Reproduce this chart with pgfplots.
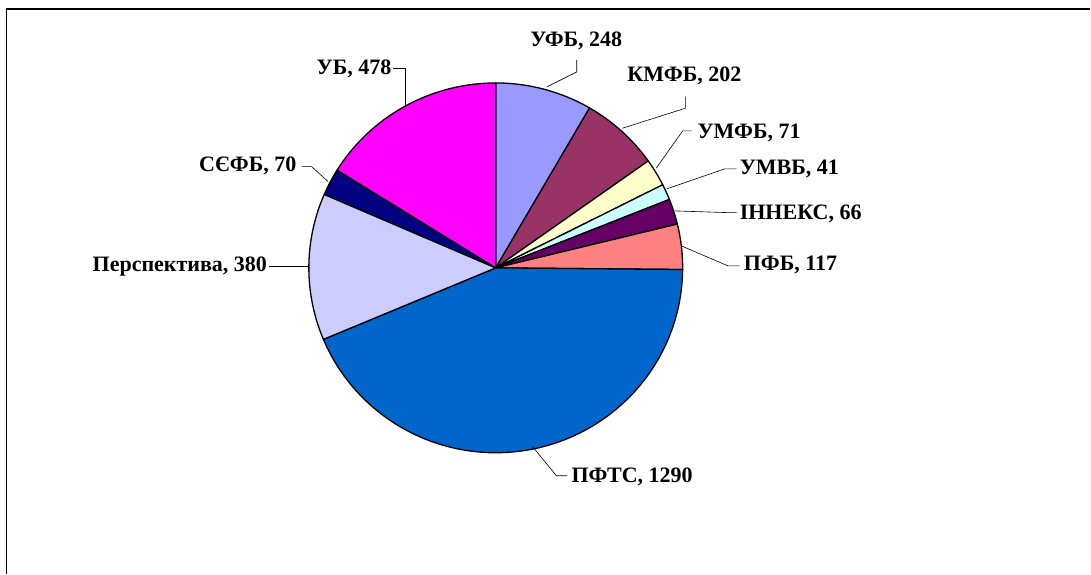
\documentclass[border=0pt]{standalone}
\usepackage{pgfplots}
\usepackage{pgfplotstable}
\pgfplotsset{compat=1.18}
\usepackage{fontspec}
\setmainfont{Liberation Serif}

\definecolor{pie0}{HTML}{9999FF}
\definecolor{pie1}{HTML}{993366}
\definecolor{pie2}{HTML}{FFFFCC}
\definecolor{pie3}{HTML}{CCFFFF}
\definecolor{pie4}{HTML}{660066}
\definecolor{pie5}{HTML}{FF8080}
\definecolor{pie6}{HTML}{0066CC}
\definecolor{pie7}{HTML}{CCCCFF}
\definecolor{pie8}{HTML}{000080}
\definecolor{pie9}{HTML}{FF00FF}

\tikzset{lbl/.style={inner sep=0pt, font=\fontsize{22bp}{26bp}\selectfont\bfseries}}

% market shares (clockwise from 12 o'clock)
\pgfplotstableread{
name value
UFB 248
KMFB 202
UMFB 71
UMVB 41
INNEKS 66
PFB 117
PFTS 1290
Perspektyva 380
SEFB 70
UB 478
}\piedata

\def\pietotal{0}
\pgfplotsforeachungrouped \i in {0,...,9}{%
  \pgfplotstablegetelem{\i}{value}\of\piedata
  \pgfmathsetmacro\pietotal{\pietotal+\pgfplotsretval}%
}
\def\piecum{0}
\pgfplotsforeachungrouped \i in {0,...,9}{%
  \pgfplotstablegetelem{\i}{value}\of\piedata
  \pgfmathsetmacro\piestart{90-360*(\piecum/\pietotal)}%
  \pgfmathsetmacro\piecum{\piecum+\pgfplotsretval}%
  \pgfmathsetmacro\pieend{90-360*(\piecum/\pietotal)}%
  \expandafter\let\csname sa\i\endcsname\piestart
  \expandafter\let\csname ea\i\endcsname\pieend
}

\begin{document}
\begin{tikzpicture}
\begin{axis}[
  scale only axis, width=1091bp, height=574bp,
  xmin=0, xmax=1091, ymin=0, ymax=574,
  hide axis, clip=false,
]
\addplot[draw=none] coordinates {(0,0) (1091,574)};
% frame
\addplot[black, line width=1.1bp] coordinates {(6.5,0) (6.5,565) (1091,565)};
% wedges
\pgfplotsinvokeforeach{0,...,9}{
  \addplot[fill=pie#1, draw=black, line width=1.3bp, line join=round,
    variable=\t, samples at={-1,0,...,60,61}]
    ({496+187*and(\t>=0,\t<=60)*cos(\csname sa#1\endcsname+(\csname ea#1\endcsname-\csname sa#1\endcsname)*\t/60)},
     {306+185*and(\t>=0,\t<=60)*sin(\csname sa#1\endcsname+(\csname ea#1\endcsname-\csname sa#1\endcsname)*\t/60)});
}
% leader lines
\addplot[black, line width=0.6bp] coordinates {(577,514) (577,502) (547,487)};
\addplot[black, line width=0.6bp] coordinates {(685.7,477.3) (685.7,465.7) (622.7,445.7)};
\addplot[black, line width=0.6bp] coordinates {(692,443) (683,443) (656.5,405.7)};
\addplot[black, line width=0.6bp] coordinates {(737,405) (725,405) (667,385)};
\addplot[black, line width=0.6bp] coordinates {(675,363) (727,361.3) (737,361.3)};
\addplot[black, line width=0.6bp] coordinates {(681.7,328) (728.3,308) (740,308)};
\addplot[black, line width=0.6bp] coordinates {(532.7,127.3) (556.7,98) (567.3,98)};
\addplot[black, line width=0.6bp] coordinates {(269.3,307.3) (308.3,307.3)};
\addplot[black, line width=0.6bp] coordinates {(301.7,407.3) (311.7,407.3) (328.3,392.3)};
\addplot[black, line width=0.6bp] coordinates {(393,506) (405,506) (405,469)};
% labels
\node[lbl, anchor=base] at (axis cs:576.5,527.3) {УФБ, 248};
\node[lbl, anchor=base] at (axis cs:684.7,492.3) {КМФБ, 202};
\node[lbl, anchor=base west] at (axis cs:697.7,435.7) {УМФБ, 71};
\node[lbl, anchor=base west] at (axis cs:740,399) {УМВБ, 41};
\node[lbl, anchor=base west] at (axis cs:740,354.7) {ІННЕКС, 66};
\node[lbl, anchor=base west] at (axis cs:744,303) {ПФБ, 117};
\node[lbl, anchor=base west] at (axis cs:571.7,91) {ПФТС, 1290};
\node[lbl, anchor=base east] at (axis cs:267.3,302.3) {Перспектива, 380};
\node[lbl, anchor=base east] at (axis cs:296.7,402.3) {СЄФБ, 70};
\node[lbl, anchor=base east] at (axis cs:391.7,499) {УБ, 478};
\end{axis}
\end{tikzpicture}
\end{document}
